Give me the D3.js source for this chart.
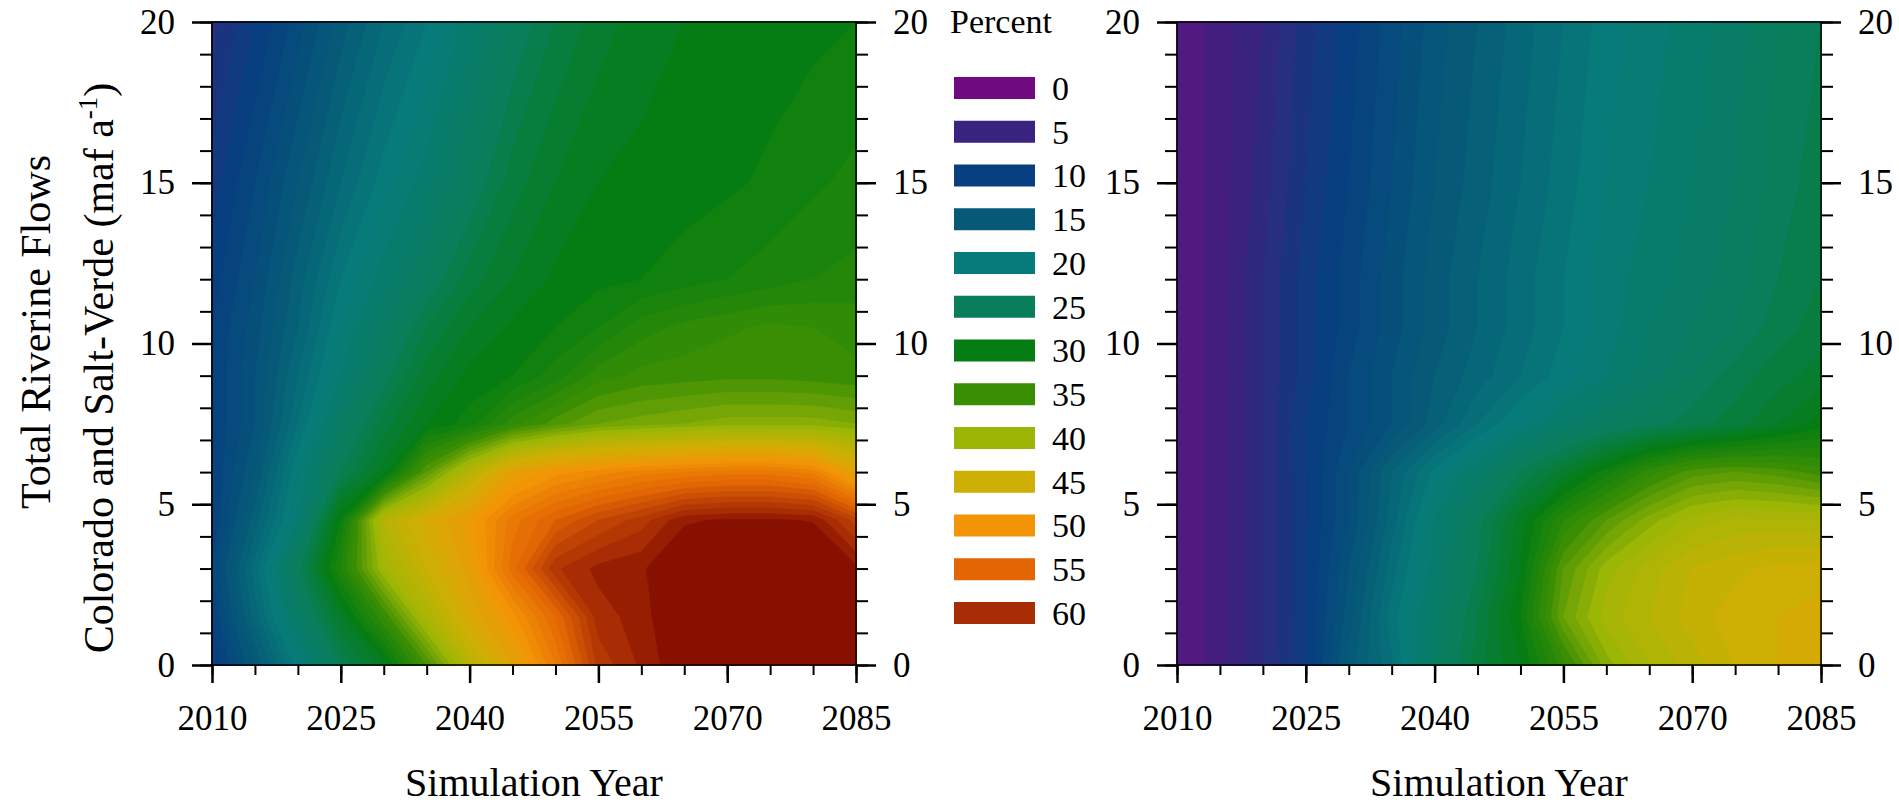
<!DOCTYPE html>
<html>
<head>
<meta charset="utf-8">
<script src="https://cdn.jsdelivr.net/npm/d3@7"></script>
<style>
  body { margin: 0; background: #fff; }
  svg text { font-family: "Liberation Serif", "Times New Roman", serif; fill: #000; }
</style>
</head>
<body>
<svg width="1899" height="807"></svg>
<script>
/*
 * Grid of the contour data: simulation years (columns) and total flows in maf/yr (rows)
 */
var years = [2010, 2015, 2020, 2025, 2030, 2035, 2040, 2045, 2050, 2055, 2060, 2065, 2070, 2075, 2080, 2085];
var flows = [0, 1.5, 3, 4.5, 6, 7.5, 9, 10.5, 12, 15, 20];
/*
 * Percent values, one row per flow (bottom row first)
 */
var leftPercent = [
  [10, 15, 20.5, 26, 29.5, 36, 43, 48, 53, 59.3, 61.2, 63, 64, 64, 64, 63.5],
  [11, 17.5, 23.5, 29, 35, 42, 47, 50.5, 55, 60.5, 61.5, 63.5, 64, 64, 64, 63.5],
  [12, 18.5, 25.5, 33, 41, 45, 48.5, 54.5, 59.8, 61.3, 61.8, 63.5, 64, 64, 63.8, 62.3],
  [11, 16.5, 22, 31, 43, 46.5, 49.5, 53.5, 56, 58, 59.5, 61.8, 62.2, 62.2, 61.9, 58.5],
  [11, 15, 21, 26, 29.5, 37, 43, 48.5, 50.5, 51.5, 52.5, 53, 53.5, 53.5, 52.5, 48],
  [11, 14, 19, 24, 27.5, 30, 31.5, 34.5, 36.5, 38, 38.5, 39, 39.5, 39.5, 39.5, 39],
  [11, 14, 18, 22, 25.5, 28.5, 30.3, 31, 32.5, 34.5, 35.3, 35.5, 35.7, 35.7, 35.5, 35.2],
  [11, 13.5, 17, 21, 24, 27, 29, 30.2, 31, 32, 33.5, 34.3, 34.8, 35.2, 35, 34.7],
  [10.5, 13, 16.5, 20, 22.5, 25, 27.5, 29, 30.2, 30.7, 31, 31.5, 32, 32.5, 33, 33.3],
  [9.5, 12, 15, 18, 20.5, 22.5, 25, 27.5, 29, 30, 30.3, 30.5, 30.8, 31.2, 31.8, 32.3],
  [7.5, 10, 12.5, 15.5, 18, 20, 22.5, 25, 27, 28.5, 29.5, 30, 30.3, 30.5, 30.7, 31]
];
var rightPercent = [
  [3, 4.5, 7, 9.7, 15.5, 18.8, 24, 27.5, 30, 34.5, 39.5, 42, 43.5, 45, 46, 47],
  [3, 4.5, 7, 9.8, 14.5, 19.5, 23.5, 27, 31, 38, 41.5, 43, 44.5, 45.5, 46, 46.5],
  [3, 4.5, 7, 9.8, 14, 18.5, 22.5, 26, 30, 37, 40.5, 42.5, 44, 44.7, 45.3, 45.5],
  [3, 4.5, 7, 9.8, 13, 17.5, 22, 25.5, 29.5, 34, 37, 39.5, 41.5, 42.3, 42.2, 42],
  [3, 4.5, 7, 9.8, 13, 17, 20.3, 23, 26, 28.5, 31.5, 34.5, 36.5, 37, 36.5, 35.5],
  [3, 4.5, 7, 10, 12, 14, 16.5, 19, 21, 23, 24.5, 25.5, 26.5, 27.5, 29, 30.5],
  [3, 4.5, 7, 9.5, 12, 14, 16, 17.5, 19, 20.5, 22, 23.5, 25, 26.5, 27.5, 28.5],
  [3, 4.5, 7, 9.5, 11.5, 13.5, 15.5, 17, 18.5, 20, 21.5, 23, 24, 25, 26.5, 27.5],
  [3, 4.5, 7, 9.5, 11.5, 13.5, 15.5, 17, 18.5, 20, 21.5, 22.5, 23.5, 24.5, 26, 27],
  [3, 4.5, 6.5, 9, 11, 13, 15, 16.5, 18, 19.5, 21, 22, 23, 24, 25.5, 26.5],
  [3, 4.5, 6, 8.5, 10.5, 12.5, 14.5, 16, 17.5, 19, 20.5, 21.5, 22.5, 23.5, 25, 26]
];
/*
 * Axis ticks
 */
var yearTicks = [2010, 2025, 2040, 2055, 2070, 2085];
var yearMinorTicks = [2010, 2015, 2020, 2025, 2030, 2035, 2040, 2045, 2050, 2055, 2060, 2065, 2070, 2075, 2080, 2085];
var flowTicks = [0, 5, 10, 15, 20];
var flowMinorTicks = [0, 1, 2, 3, 4, 5, 6, 7, 8, 9, 10, 11, 12, 13, 14, 15, 16, 17, 18, 19, 20];
/*
 * Legend (percent classes) and their colours
 */
var legendValues = [0, 5, 10, 15, 20, 25, 30, 35, 40, 45, 50, 55, 60];
var legendColors = ["#700a80", "#3a2480", "#073f80", "#065a78", "#077a7a", "#087e5a", "#067d12",
                    "#3a8e04", "#9cb606", "#ceb004", "#f39406", "#e26604", "#a82c04"];
var levels = d3.range(0, 63, 1); // contour interval of 1 percent

var svg = d3.select("svg"),
    panelW = 644,
    plotTop = 22,
    plotBottom = 665,
    TickMajor = 2.5,
    TickMinor = 2;

var fill = d3.scaleLinear()
    .domain(legendValues.concat([62]))
    .range(legendColors.concat(["#881000"]))
    .clamp(true);

drawPanel(212, leftPercent);
drawPanel(1177, rightPercent);
drawLegend();
drawTitles();

function drawPanel(left, grid) {
  var g = svg.append("g");
  var x = d3.scaleLinear().domain([2010, 2085]).range([left, left + panelW]),
      y = d3.scaleLinear().domain([0, 20]).range([plotBottom, plotTop]);
/*
 * Grid index -> data value (d3.contours puts sample i at i + 0.5)
 */
  var col = d3.scaleLinear().domain(d3.range(years.length)).range(years).clamp(true),
      row = d3.scaleLinear().domain(d3.range(flows.length)).range(flows).clamp(true);
  var path = d3.geoPath(d3.geoTransform({
    point: function(px, py) { this.stream.point(x(col(px - 0.5)), y(row(py - 0.5))); }
  }));

  var bands = d3.contours()
      .size([years.length, flows.length])
      .thresholds(levels)(d3.merge(grid));

  g.append("g")
    .selectAll("path")
    .data(bands)
    .enter().append("path")
      .attr("d", path)
      .attr("fill", function(d) { return fill(d.value); })
      .attr("stroke", function(d) { return fill(d.value); })
      .attr("stroke-width", 0.6);

  g.append("rect")
      .attr("x", left).attr("y", plotTop)
      .attr("width", panelW).attr("height", plotBottom - plotTop)
      .attr("fill", "none").attr("stroke", "#000").attr("stroke-width", 1.5);

  // y axes, both sides
  addAxis(g, d3.axisLeft(y).tickValues(flowMinorTicks).tickSize(12).tickFormat(""), "translate(" + left + ",0)", TickMinor);
  addAxis(g, d3.axisLeft(y).tickValues(flowTicks).tickSize(20).tickPadding(17), "translate(" + left + ",0)", TickMajor);
  addAxis(g, d3.axisRight(y).tickValues(flowMinorTicks).tickSize(12).tickFormat(""), "translate(" + (left + panelW) + ",0)", TickMinor);
  addAxis(g, d3.axisRight(y).tickValues(flowTicks).tickSize(20).tickPadding(17), "translate(" + (left + panelW) + ",0)", TickMajor);
  // x axis
  addAxis(g, d3.axisBottom(x).tickValues(yearMinorTicks).tickSize(10).tickFormat(""), "translate(0," + plotBottom + ")", TickMinor);
  var xa = addAxis(g, d3.axisBottom(x).tickValues(yearTicks).tickSize(18).tickFormat(d3.format("d")), "translate(0," + plotBottom + ")", TickMajor);
  xa.selectAll("text").attr("y", 65).attr("dy", 0);

  g.append("text")
      .attr("x", left + panelW / 2)
      .attr("y", 796)
      .attr("text-anchor", "middle")
      .style("font-size", "40px")
      .text("Simulation Year");
}

function addAxis(g, axis, transform, width) {
  var a = g.append("g")
      .attr("transform", transform)
      .call(axis.tickSizeOuter(0));
  a.select(".domain").remove();
  a.selectAll("line").attr("stroke", "#000").attr("stroke-width", width);
  a.selectAll("text").style("font-size", "35px").attr("font-family", null);
  return a;
}

function drawLegend() {
  var ly = d3.scalePoint().domain(legendValues).range([88, 613]);
  var lg = svg.append("g");
  lg.append("text")
      .attr("x", 950).attr("y", 33)
      .style("font-size", "34px")
      .text("Percent");
  lg.selectAll("rect")
    .data(legendValues)
    .enter().append("rect")
      .attr("x", 954)
      .attr("y", function(d) { return ly(d) - 11; })
      .attr("width", 81).attr("height", 22)
      .attr("fill", function(d, i) { return legendColors[i]; });
  lg.selectAll("text.lab")
    .data(legendValues)
    .enter().append("text")
      .attr("class", "lab")
      .attr("x", 1052)
      .attr("y", function(d) { return ly(d); })
      .attr("dy", "0.35em")
      .style("font-size", "34px")
      .text(function(d) { return d; });
}

function drawTitles() {
  svg.append("text")
      .attr("transform", "translate(50,332) rotate(-90)")
      .attr("text-anchor", "middle")
      .style("font-size", "42px")
      .text("Total Riverine Flows");
  var t = svg.append("text")
      .attr("transform", "translate(113,368) rotate(-90)")
      .attr("text-anchor", "middle")
      .style("font-size", "42px");
  t.append("tspan").text("Colorado and Salt-Verde (maf a");
  t.append("tspan").attr("dy", -16).style("font-size", "27px").text("-1");
  t.append("tspan").attr("dy", 16).text(")");
}
</script>
</body>
</html>
